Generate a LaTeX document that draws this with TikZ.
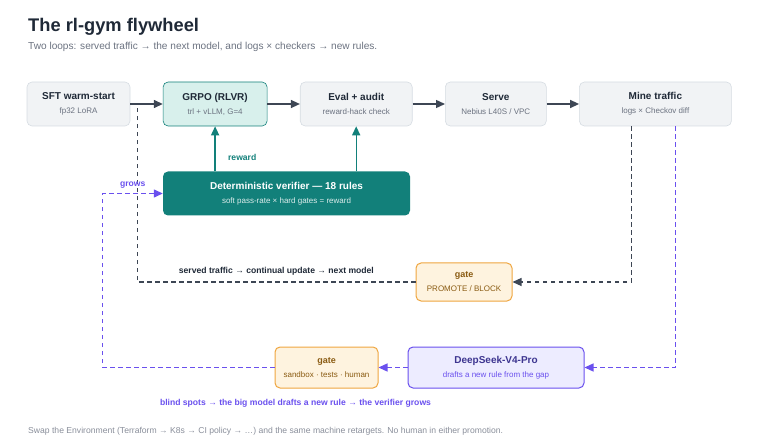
\documentclass[tikz,border=0pt]{standalone}
\usepackage{fontspec}
\setmainfont{Liberation Sans}
\usepackage{tikz}
\usetikzlibrary{positioning}
\usetikzlibrary{arrows.meta}

\definecolor{inkdark}{HTML}{1F2937}
\definecolor{inkgray}{HTML}{6B7280}
\definecolor{linegray}{HTML}{3D4654}
\definecolor{boxfill}{HTML}{F1F3F5}
\definecolor{boxdraw}{HTML}{D6DCE2}
\definecolor{teal}{HTML}{12807A}
\definecolor{tealfill}{HTML}{D8F0EC}
\definecolor{orfill}{HTML}{FEF3DF}
\definecolor{ordraw}{HTML}{EFA640}
\definecolor{ortext}{HTML}{8A5B12}
\definecolor{purp}{HTML}{6A50EE}
\definecolor{purpfill}{HTML}{EDECFF}
\definecolor{purpdark}{HTML}{3D3590}

\newcommand{\boxtxt}[3]{{\bfseries\fontsize{10}{12}\selectfont #1}\\[2pt]{\fontsize{8}{10}\selectfont\color{#3}#2}}

\begin{document}
\begin{tikzpicture}[x=1pt, y=1pt,
        stagenode/.style={rectangle, rounded corners=5pt, draw=boxdraw, fill=boxfill, line width=0.6pt,
            minimum height=44pt, align=center, text=inkdark, inner sep=2pt},
        grponode/.style={stagenode, draw=teal, fill=tealfill},
        verinode/.style={rectangle, rounded corners=5pt, fill=teal, minimum width=247pt,
            minimum height=44pt, align=center, text=white},
        gatenode/.style={rectangle, rounded corners=5pt, draw=ordraw, fill=orfill, line width=1pt,
            align=center, text=ortext, inner sep=2pt},
        llmnode/.style={rectangle, rounded corners=5pt, draw=purp, fill=purpfill, line width=1pt,
            align=center, text=purpdark, inner sep=2pt},
        tip/.style={-{Triangle[length=9pt,width=8pt]}},
        flow/.style={tip, linegray, line width=1.4pt},
        rewardarrow/.style={tip, teal, line width=1.4pt},
        traffic/.style={linegray, line width=1.3pt, dash pattern=on 4.5pt off 3.5pt},
        rules/.style={purp, line width=1.3pt, dash pattern=on 4.5pt off 3.5pt},
        tag/.style={font=\bfseries\fontsize{8.6}{10}\selectfont},
        node distance=32.5pt,
        ]
        \useasboundingbox (0,0) rectangle (768,-446);

        %Title
        \node[anchor=base west, inner sep=0, text=inkdark, font=\bfseries\fontsize{18.3}{20}\selectfont] (title) at (28,-32) {The rl-gym flywheel};
        \node[anchor=base west, inner sep=0, text=inkgray, font=\fontsize{10.1}{12}\selectfont] (subtitle) at (28,-50)
            {Two loops: served traffic → the next model, and logs × checkers → new rules.};

        %Nodes
        \node[stagenode, minimum width=103pt] (sft)   at (78.5,-104)    {\boxtxt{SFT warm-start}{fp32 LoRA}{inkgray}};
        \node[grponode,  minimum width=104pt] (grpo)  [right=of sft]   {\boxtxt{GRPO (RLVR)}{trl + vLLM, G=4}{inkgray}};
        \node[stagenode, minimum width=112pt] (eval)  [right=of grpo]  {\boxtxt{Eval + audit}{reward-hack check}{inkgray}};
        \node[stagenode, minimum width=101pt] (serve) [right=of eval]  {\boxtxt{Serve}{Nebius L40S / VPC}{inkgray}};
        \node[stagenode, minimum width=152pt] (mine)  [right=of serve] {\boxtxt{Mine traffic}{logs × Checkov diff}{inkgray}};

        \node[verinode] (ver) [below=45pt of grpo.south west, anchor=north west]
            {\boxtxt{Deterministic verifier — 18 rules}{soft pass-rate × hard gates = reward}{white!85!teal}};

        \node[gatenode, minimum width=96pt, minimum height=38pt] (promote) at (464,-282)
            {{\bfseries\fontsize{9}{11}\selectfont gate}\\[2pt]{\fontsize{8}{10}\selectfont PROMOTE / BLOCK}};
        \node[llmnode, minimum width=176pt, minimum height=41pt] (deep) at (496,-367.5)
            {{\bfseries\fontsize{10}{12}\selectfont DeepSeek-V4-Pro}\\[2pt]{\fontsize{8}{10}\selectfont\color{purp} drafts a new rule from the gap}};
        \node[gatenode, minimum width=103pt, minimum height=41pt] (sandbox) [left=29pt of deep]
            {{\bfseries\fontsize{9}{11}\selectfont gate}\\[2pt]{\fontsize{8}{10}\selectfont sandbox · tests · human}};

        \node[tag, text=purp] (blind) at (295.5,-403) {blind spots → the big model drafts a new rule → the verifier grows};
        \node[anchor=base west, inner sep=0, text=inkgray!80, font=\fontsize{8.6}{10}\selectfont] (footer) at (28,-433)
            {Swap the Environment (Terraform → K8s → CI policy → …) and the same machine retargets. No human in either promotion.};

        %Lines
        \draw[flow] (sft.east)   -- (grpo.west);
        \draw[flow] (grpo.east)  -- (eval.west);
        \draw[flow] (eval.east)  -- (serve.west);
        \draw[flow] (serve.east) -- (mine.west);

        \draw[rewardarrow] (grpo.south |- ver.north) -- node[pos=0.3, right=9pt, tag, text=teal] {reward} (grpo.south);
        \draw[rewardarrow] (eval.south |- ver.north) -- (eval.south);

        % outer loop: traffic back to the next model
        \draw[traffic, tip] ([xshift=-24pt]mine.south) |- (promote.east);
        \draw[traffic] (promote.west) -| node[pos=0.25, above=3pt, tag, text=inkdark] {served traffic → continual update → next model} ([xshift=7pt]sft.east);

        % inner loop: new rules for the verifier
        \draw[rules, tip] ([xshift=20pt]mine.south) |- (deep.east);
        \draw[rules, tip] (deep.west) -- (sandbox.east);
        \draw[rules, tip] (sandbox.west) -| ([xshift=-60pt]ver.west) -- node[above=1pt, tag, text=purp] {grows} (ver.west);
    \end{tikzpicture}
\end{document}
